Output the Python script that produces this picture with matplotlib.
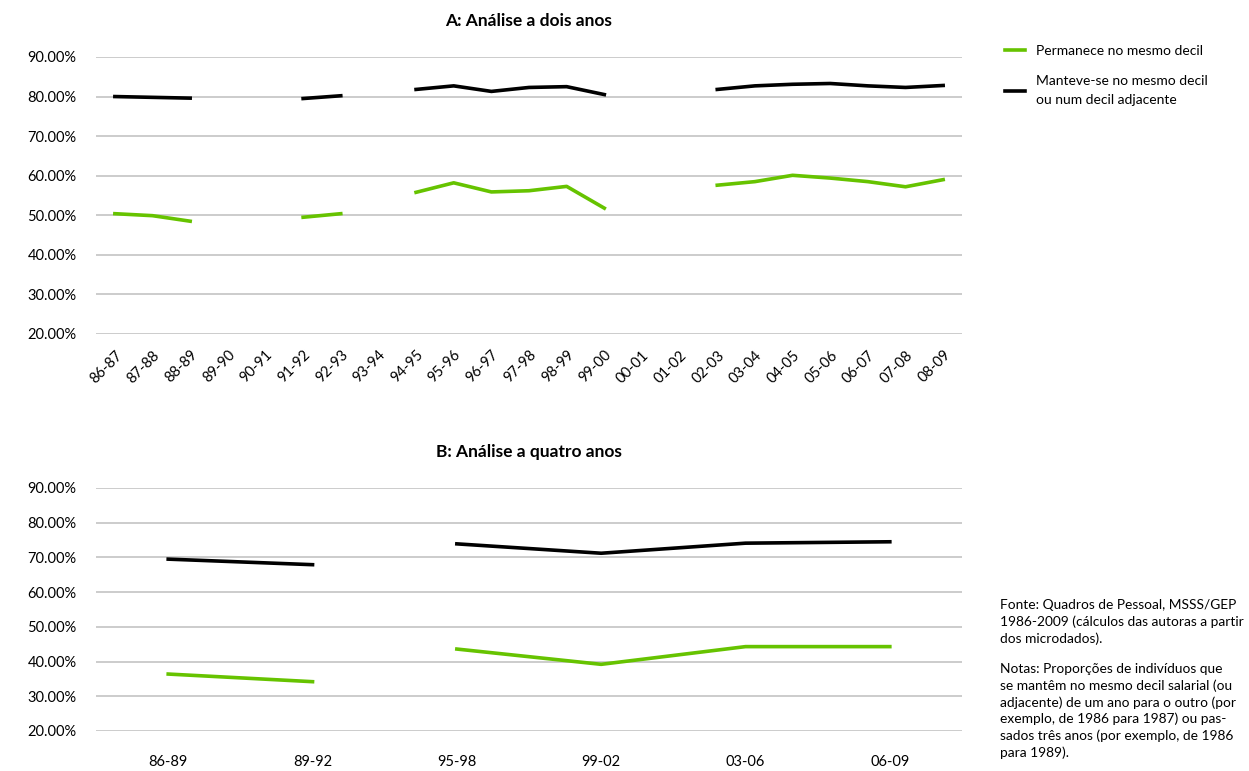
import matplotlib.pyplot as plt
import numpy as np

plt.rcParams['font.family'] = ['Lato', 'DejaVu Sans']

nan = np.nan

# Painel A: análise a dois anos
periods_a = ['86-87', '87-88', '88-89', '89-90', '90-91', '91-92', '92-93', '93-94',
             '94-95', '95-96', '96-97', '97-98', '98-99', '99-00', '00-01', '01-02',
             '02-03', '03-04', '04-05', '05-06', '06-07', '07-08', '08-09']
same_a = [50.4, 49.9, 48.5, nan, nan, 49.5, 50.4, nan,
          55.8, 58.2, 55.9, 56.2, 57.3, 51.8, nan, nan,
          57.6, 58.5, 60.1, 59.4, 58.5, 57.2, 59.0]
adj_a = [80.0, 79.8, 79.6, nan, nan, 79.5, 80.2, nan,
         81.8, 82.7, 81.3, 82.3, 82.5, 80.5, nan, nan,
         81.8, 82.7, 83.1, 83.3, 82.7, 82.3, 82.8]

# Painel B: análise a quatro anos (linha interrompida entre 89-92 e 95-98)
periods_b = ['86-89', '89-92', '95-98', '99-02', '03-06', '06-09']
same_b = [36.4, 34.2, 43.6, 39.2, 44.3, 44.3]
adj_b = [69.5, 67.9, 73.9, 71.2, 74.1, 74.5]
segments_b = [(0, 2), (2, 6)]

yticks = [20, 30, 40, 50, 60, 70, 80, 90]

green = '#66c300'
black = '#000000'
grid_c = '#c4c4c4'

fig = plt.figure(figsize=(12.49, 7.71), dpi=100)
axA = fig.add_axes([0.0769, 0.5668, 0.6933, 0.3593])
axB = fig.add_axes([0.0769, 0.0519, 0.6933, 0.3152])


def style(ax, n):
    ax.set_xlim(-0.5, n - 0.5)
    ax.set_ylim(20, 90)
    ax.set_yticks(yticks)
    ax.set_yticklabels(['%.2f%%' % v for v in yticks], fontsize=10.5)
    ax.grid(axis='y', color=grid_c, linewidth=1.2)
    ax.set_axisbelow(True)
    for s in ax.spines.values():
        s.set_visible(False)
    ax.tick_params(length=0)
    ax.tick_params(axis='y', pad=14)


xa = np.arange(len(periods_a))
la, = axA.plot(xa, same_a, color=green, lw=2.6, label='Permanece no mesmo decil')
lb, = axA.plot(xa, adj_a, color=black, lw=2.6,
               label='Manteve-se no mesmo decil\nou num decil adjacente')
style(axA, len(periods_a))
axA.set_xticks(xa)
axA.set_xticklabels(periods_a, rotation=45, ha='right', rotation_mode='anchor', fontsize=10.5)
axA.tick_params(axis='x', pad=10)
axA.set_title('A: Análise a dois anos', fontsize=12.5, fontweight='bold', pad=22)

xb = np.arange(len(periods_b))
for i0, i1 in segments_b:
    axB.plot(xb[i0:i1], same_b[i0:i1], color=green, lw=2.6)
    axB.plot(xb[i0:i1], adj_b[i0:i1], color=black, lw=2.6)
style(axB, len(periods_b))
axB.set_xticks(xb)
axB.set_xticklabels(periods_b, fontsize=10.5)
axB.tick_params(axis='x', pad=17)
axB.set_title('B: Análise a quatro anos', fontsize=12.5, fontweight='bold', pad=22)

leg = fig.legend(handles=[la, lb], loc='upper left', bbox_to_anchor=(0.795, 0.958),
                 frameon=False, fontsize=10, handlelength=1.4, handletextpad=0.8,
                 labelspacing=1.3)
for t in leg.get_texts():
    t.set_linespacing(1.7)

note = ('Fonte: Quadros de Pessoal, MSSS/GEP\n'
        '1986-2009 (cálculos das autoras a partir\n'
        'dos microdados).')
note2 = ('Notas: Proporções de indivíduos que\n'
         'se mantêm no mesmo decil salarial (ou\n'
         'adjacente) de um ano para o outro (por\n'
         'exemplo, de 1986 para 1987) ou pas-\n'
         'sados três anos (por exemplo, de 1986\n'
         'para 1989).')
fig.text(0.801, 0.223, note, fontsize=9.9, va='top', linespacing=1.4)
fig.text(0.801, 0.140, note2, fontsize=9.9, va='top', linespacing=1.4)

fig.savefig('out.png', dpi=100)
